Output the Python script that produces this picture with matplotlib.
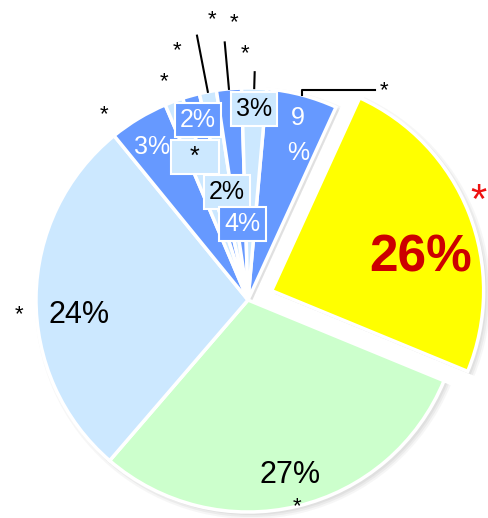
import numpy as np
import matplotlib.pyplot as plt

plt.rcParams['font.family'] = ['Liberation Sans', 'DejaVu Sans']

# slice shares, clockwise starting with the "9%" slice
shares = [5.4, 24.4, 30.1, 27.8, 4.5, 1.4, 1.3, 1.3, 1.9, 1.9]
pct_labels = ["9\n%", "26%", "27%", "24%", "3%", "*", "2%", "2%", "4%", "3%"]
names = ["*", "*", "*", "*", "*", "*", "*", "*", "*", "*"]

dark = "#6699FF"
light = "#CCE8FF"
colors = [dark, "#FFFF00", "#CCFFCC", light, dark, light, dark, light, dark, light]
explode = [0, 0.12, 0, 0, 0, 0, 0, 0, 0, 0]

W, H = 489, 518
cx, cy, R = 248, H - 300, 212
# matplotlib's explode is in data units, so scale by the radius
offsets = [e * R for e in explode]

fig = plt.figure(figsize=(W / 100, H / 100), dpi=100)
ax = fig.add_axes([0, 0, 1, 1])

start = 90 - 5.1

# soft shadow behind the pie
for grow, a in [(4, 0.05), (2, 0.07), (0, 0.08)]:
    ax.pie(shares, explode=offsets, colors=['#606060'] * len(shares),
           startangle=start, counterclock=False, center=(cx + 3, cy - 3),
           radius=R + grow, wedgeprops=dict(linewidth=0, alpha=a), frame=True)

wedges, _ = ax.pie(shares, explode=offsets, colors=colors, startangle=start,
                   counterclock=False, center=(cx, cy), radius=R,
                   wedgeprops=dict(edgecolor='white', linewidth=2.5), frame=True)
ax.set_xlim(0, W)
ax.set_ylim(0, H)
ax.axis('off')


def pos(i, frac, shift=0.0):
    # point along the wedge's middle angle; shift is clockwise degrees
    w = wedges[i]
    mid = np.deg2rad((w.theta1 + w.theta2) / 2 - shift)
    x0, y0 = w.center
    return x0 + frac * w.r * np.cos(mid), y0 + frac * w.r * np.sin(mid)


# (radius fraction, clockwise shift, text colour, size, weight, box colour)
inner = [
    (0.81, 2, 'white', 18, 'normal', None),
    (0.72, 9, '#CC0000', 37, 'bold', None),
    (0.85, 0, 'black', 22, 'normal', None),
    (0.80, -6, 'black', 22, 'normal', None),
    (0.85, -1, 'white', 18, 'normal', None),
    (0.72, 0, 'black', 18, 'normal', light),
    (0.88, 0, 'white', 18, 'normal', dark),
    (0.52, 0, 'black', 18, 'normal', light),
    (0.36, 1, 'white', 18, 'normal', dark),
    (0.90, 0, 'black', 18, 'normal', light),
]
for i, (f, s, c, fs, fw, box) in enumerate(inner):
    x, y = pos(i, f, s)
    txt = pct_labels[i]
    bb = None
    if box is not None:
        if txt == "*":
            txt = "  *  "
        bb = dict(boxstyle='square,pad=0.2', fc=box, ec='white', lw=1.5)
    ax.text(x, y, txt, ha='center', va='center', color=c, fontsize=fs,
            fontweight=fw, bbox=bb, linespacing=1.6)

# category names outside: (radius fraction, clockwise shift, leader line end)
outer = [
    (1.20, 17.5, None),
    (1.07, -3, None),
    (0.99, 0, None),
    (1.08, -3, None),
    (1.13, -6, None),
    (1.13, 0, None),
    (1.25, 0, None),
    (1.36, 3.7, 1.27),
    (1.34, 2.3, 1.22),
    (1.19, -2.4, 1.075),
]
name_texts = []
for i, (f, s, lead) in enumerate(outer):
    x, y = pos(i, f, s)
    color = 'black'
    size = 16
    if i == 1:
        color, size = '#EE1111', 30
    t = ax.text(x, y - 6, names[i], ha='center', va='center', color=color,
                fontsize=size)
    name_texts.append(t)
    if lead is not None:
        x1, y1 = pos(i, 1.0)
        x2, y2 = pos(i, lead)
        ax.plot([x1, x2], [y1, y2], color='black', lw=1.5)

# elbow leader for the 9% slice
x1, y1 = pos(0, 1.0)
ax.plot([x1, x1, x1 + 73], [y1, y1 + 5, y1 + 5], color='black', lw=1.5)

# keep the outer labels inside the canvas
fig.canvas.draw()
renderer = fig.canvas.get_renderer()
for t in name_texts:
    bb = t.get_window_extent(renderer)
    x, y = t.get_position()
    if bb.y0 < 0:
        t.set_position((x, y - bb.y0 + 1))

fig.savefig('out.png', dpi=100)
